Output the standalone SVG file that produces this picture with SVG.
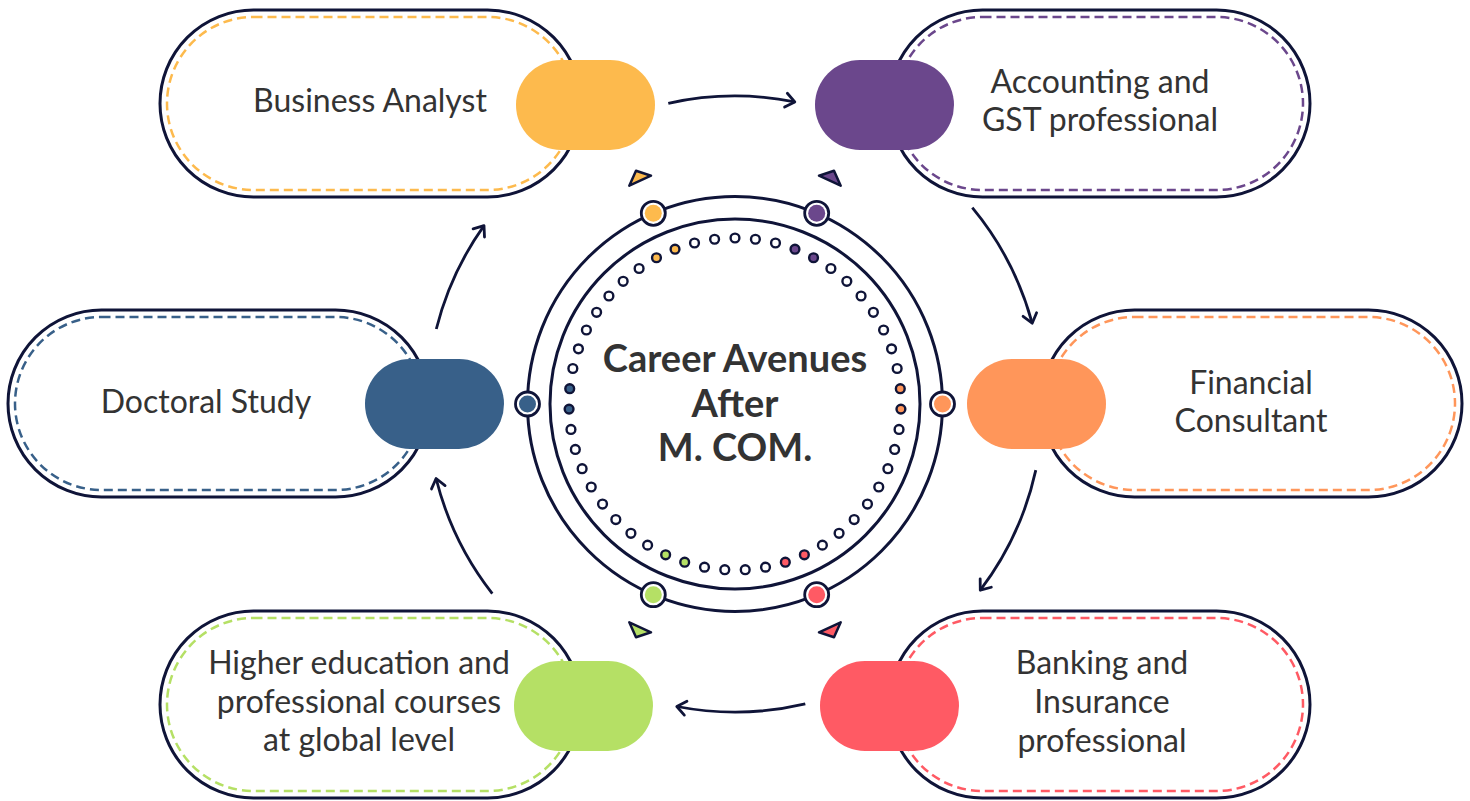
<svg xmlns="http://www.w3.org/2000/svg" width="1470" height="801" viewBox="0 0 1470 801">
<style>
.outer{fill:#fff;stroke:#0f1438;stroke-width:3}
.dash{fill:none;stroke-width:2.5;stroke-dasharray:9 5}
.lbl{font-family:Lato,"Liberation Sans",sans-serif;font-size:32px;fill:#333;text-anchor:middle}
.title{font-family:Lato,"Liberation Sans",sans-serif;font-size:38px;font-weight:bold;fill:#333;text-anchor:middle}
.ring{fill:none;stroke:#0f1438;stroke-width:3}
.dot{stroke:#0f1438;stroke-width:2.4}
.mk{fill:#fff;stroke:#0f1438;stroke-width:2.8}
.tri{stroke:#0f1438;stroke-width:2.5;stroke-linejoin:round}
.arc{fill:none;stroke:#0f1438;stroke-width:2.8;marker-end:url(#head)}
</style>
<defs>
<marker id="head" markerUnits="userSpaceOnUse" markerWidth="24" markerHeight="24" viewBox="-12 -12 24 24" refX="0" refY="0" orient="auto">
<path d="M-9,-7 L0,0 L-9,7" fill="none" stroke="#0f1438" stroke-width="2.8" stroke-linecap="round" stroke-linejoin="round"/>
</marker>
</defs>
<rect width="1470" height="801" fill="#fff"/>

<g id="business-analyst">
<rect class="outer" x="160" y="10" width="421" height="187" rx="93.5"/>
<rect class="dash" stroke="#fdba4d" x="167" y="17" width="407" height="173" rx="86.5"/>
<rect x="516" y="60" width="139" height="90" rx="45" fill="#fdba4d"/>
<text class="lbl" x="370" y="112">Business Analyst</text>
</g>

<g id="accounting">
<rect class="outer" x="889" y="10" width="421" height="187" rx="93.5"/>
<rect class="dash" stroke="#6b478c" x="896" y="17" width="407" height="173" rx="86.5"/>
<rect x="815" y="60" width="139" height="90" rx="45" fill="#6b478c"/>
<text class="lbl" x="1100" y="93">Accounting and</text>
<text class="lbl" x="1100" y="131">GST professional</text>
</g>

<g id="doctoral">
<rect class="outer" x="8" y="310" width="421" height="187" rx="93.5"/>
<rect class="dash" stroke="#386089" x="15" y="317" width="407" height="173" rx="86.5"/>
<rect x="365" y="359" width="139" height="90" rx="45" fill="#386089"/>
<text class="lbl" x="206" y="413">Doctoral Study</text>
</g>

<g id="financial">
<rect class="outer" x="1041" y="310" width="421" height="187" rx="93.5"/>
<rect class="dash" stroke="#ff965a" x="1048" y="317" width="407" height="173" rx="86.5"/>
<rect x="967" y="359" width="139" height="90" rx="45" fill="#ff965a"/>
<text class="lbl" x="1251" y="394">Financial</text>
<text class="lbl" x="1251" y="432">Consultant</text>
</g>

<g id="higher-education">
<rect class="outer" x="160" y="611" width="421" height="187" rx="93.5"/>
<rect class="dash" stroke="#b5e065" x="167" y="618" width="407" height="173" rx="86.5"/>
<rect x="514" y="661" width="139" height="90" rx="45" fill="#b5e065"/>
<text class="lbl" x="359" y="674">Higher education and</text>
<text class="lbl" x="359" y="713">professional courses</text>
<text class="lbl" x="359" y="751">at global level</text>
</g>

<g id="banking">
<rect class="outer" x="889" y="611" width="421" height="187" rx="93.5"/>
<rect class="dash" stroke="#ff5a64" x="896" y="618" width="407" height="173" rx="86.5"/>
<rect x="820" y="661" width="139" height="90" rx="45" fill="#ff5a64"/>
<text class="lbl" x="1102" y="674">Banking and</text>
<text class="lbl" x="1102" y="713">Insurance</text>
<text class="lbl" x="1102" y="752">professional</text>
</g>

<g id="center">
<circle class="ring" cx="735" cy="404" r="207.5"/>
<circle class="ring" cx="735" cy="404" r="185"/>
<g id="dots" fill="#fff">
<circle class="dot" cx="735" cy="238" r="4.4"/>
<circle class="dot" cx="755.4" cy="239.26" r="4.4"/>
<circle class="dot" cx="775.49" cy="243.01" r="4.4"/>
<circle class="dot" cx="794.97" cy="249.21" r="4.4" fill="#6b478c"/>
<circle class="dot" cx="813.53" cy="257.75" r="4.4" fill="#6b478c"/>
<circle class="dot" cx="830.9" cy="268.51" r="4.4"/>
<circle class="dot" cx="846.83" cy="281.32" r="4.4"/>
<circle class="dot" cx="861.07" cy="296.01" r="4.4"/>
<circle class="dot" cx="873.39" cy="312.32" r="4.4"/>
<circle class="dot" cx="883.6" cy="330.01" r="4.4"/>
<circle class="dot" cx="891.56" cy="348.83" r="4.4"/>
<circle class="dot" cx="897.16" cy="368.49" r="4.4"/>
<circle class="dot" cx="900.29" cy="388.68" r="4.4" fill="#ff965a"/>
<circle class="dot" cx="900.92" cy="409.11" r="4.4" fill="#ff965a"/>
<circle class="dot" cx="899.04" cy="429.46" r="4.4"/>
<circle class="dot" cx="894.66" cy="449.43" r="4.4"/>
<circle class="dot" cx="887.87" cy="468.7" r="4.4"/>
<circle class="dot" cx="878.76" cy="487" r="4.4"/>
<circle class="dot" cx="867.47" cy="504.04" r="4.4"/>
<circle class="dot" cx="854.18" cy="519.55" r="4.4"/>
<circle class="dot" cx="839.08" cy="533.32" r="4.4"/>
<circle class="dot" cx="822.39" cy="545.14" r="4.4"/>
<circle class="dot" cx="804.36" cy="554.81" r="4.4" fill="#ff5a64"/>
<circle class="dot" cx="785.32" cy="562.19" r="4.4" fill="#ff5a64"/>
<circle class="dot" cx="765.5" cy="567.17" r="4.4"/>
<circle class="dot" cx="745.22" cy="569.68" r="4.4"/>
<circle class="dot" cx="724.78" cy="569.68" r="4.4"/>
<circle class="dot" cx="704.5" cy="567.17" r="4.4"/>
<circle class="dot" cx="684.68" cy="562.19" r="4.4" fill="#b5e065"/>
<circle class="dot" cx="665.64" cy="554.81" r="4.4" fill="#b5e065"/>
<circle class="dot" cx="647.61" cy="545.14" r="4.4"/>
<circle class="dot" cx="630.92" cy="533.32" r="4.4"/>
<circle class="dot" cx="615.82" cy="519.55" r="4.4"/>
<circle class="dot" cx="602.53" cy="504.04" r="4.4"/>
<circle class="dot" cx="591.24" cy="487" r="4.4"/>
<circle class="dot" cx="582.13" cy="468.7" r="4.4"/>
<circle class="dot" cx="575.34" cy="449.43" r="4.4"/>
<circle class="dot" cx="570.96" cy="429.46" r="4.4"/>
<circle class="dot" cx="569.08" cy="409.11" r="4.4" fill="#386089"/>
<circle class="dot" cx="569.71" cy="388.68" r="4.4" fill="#386089"/>
<circle class="dot" cx="572.84" cy="368.49" r="4.4"/>
<circle class="dot" cx="578.44" cy="348.83" r="4.4"/>
<circle class="dot" cx="586.4" cy="330.01" r="4.4"/>
<circle class="dot" cx="596.61" cy="312.32" r="4.4"/>
<circle class="dot" cx="608.93" cy="296.01" r="4.4"/>
<circle class="dot" cx="623.17" cy="281.32" r="4.4"/>
<circle class="dot" cx="639.1" cy="268.51" r="4.4"/>
<circle class="dot" cx="656.47" cy="257.75" r="4.4" fill="#fdba4d"/>
<circle class="dot" cx="675.03" cy="249.21" r="4.4" fill="#fdba4d"/>
<circle class="dot" cx="694.51" cy="243.01" r="4.4"/>
<circle class="dot" cx="714.6" cy="239.26" r="4.4"/>
</g>
<g id="ring-markers">
<circle class="mk" cx="653.3" cy="213.3" r="12"/><circle cx="653.3" cy="213.3" r="8.5" fill="#fdba4d"/>
<circle class="mk" cx="816.7" cy="213.3" r="12"/><circle cx="816.7" cy="213.3" r="8.5" fill="#6b478c"/>
<circle class="mk" cx="942.5" cy="404" r="12"/><circle cx="942.5" cy="404" r="8.5" fill="#ff965a"/>
<circle class="mk" cx="527.5" cy="404" r="12"/><circle cx="527.5" cy="404" r="8.5" fill="#386089"/>
<circle class="mk" cx="653.3" cy="594.7" r="12"/><circle cx="653.3" cy="594.7" r="8.5" fill="#b5e065"/>
<circle class="mk" cx="816.7" cy="594.7" r="12"/><circle cx="816.7" cy="594.7" r="8.5" fill="#ff5a64"/>
</g>
<g id="triangles">
<polygon class="tri" fill="#fdba4d" points="629.3,185.7 636,170.7 651,175.7"/>
<polygon class="tri" fill="#6b478c" points="840.7,185.7 834,170.7 819,175.7"/>
<polygon class="tri" fill="#b5e065" points="629.3,622.3 636,637.3 651,632.3"/>
<polygon class="tri" fill="#ff5a64" points="840.7,622.3 834,637.3 819,632.3"/>
</g>
<text class="title" x="735" y="372">Career Avenues</text>
<text class="title" x="735" y="417">After</text>
<text class="title" x="735" y="461">M. COM.</text>
</g>

<g id="connectors">
<path class="arc" d="M668.3,103.3 A308,308 0 0 1 794.8,101.9"/>
<path class="arc" d="M972.3,207.7 A308,308 0 0 1 1032.2,323.2"/>
<path class="arc" d="M1035.8,470.1 A308,308 0 0 1 980.3,590.2"/>
<path class="arc" d="M805.3,703.9 A308,308 0 0 1 676.8,706.5"/>
<path class="arc" d="M492.3,593.6 A308,308 0 0 1 436.1,478.5"/>
<path class="arc" d="M436.3,329 A308,308 0 0 1 484,225.6"/>
</g>
</svg>
